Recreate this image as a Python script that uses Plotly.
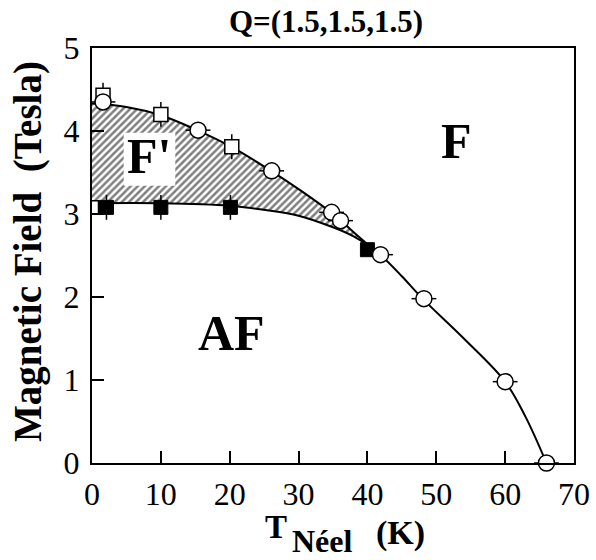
import plotly.graph_objects as go

# ---- data ----
circ_T = [1.6, 15.4, 26.1, 34.8, 36.1, 41.9, 48.2, 60.0, 66.0]
circ_H = [4.35, 4.01, 3.52, 3.02, 2.92, 2.51, 1.98, 0.98, 0.0]
circ_dT = [1.8, 1.8, 1.8, 1.8, 1.8, 1.8, 1.8, 1.8, 1.8]

open_sq_T = [1.6, 10.0, 20.3]
open_sq_H = [4.43, 4.20, 3.81]
open_sq_dH = [0.15, 0.15, 0.15]

edge_sq_T = [0.0]
edge_sq_H = [3.08]

fill_sq_T = [2.1, 10.0, 20.1, 40.0]
fill_sq_H = [3.08, 3.08, 3.08, 2.57]
fill_sq_dH = [0.15, 0.15, 0.15, 0.0]

# phase boundaries
upper_T = [0, 5, 10, 15, 20, 26, 30, 35, 38, 40.5]
upper_H = [4.33, 4.29, 4.19, 4.02, 3.82, 3.52, 3.30, 3.00, 2.78, 2.60]
lower_T = [0, 10, 20, 25, 30, 35, 38, 40.5]
lower_H = [3.13, 3.13, 3.10, 3.05, 2.98, 2.84, 2.73, 2.60]
high_T = [40.5, 42, 45, 48, 54, 60, 63, 66]
high_H = [2.60, 2.50, 2.25, 1.98, 1.50, 0.98, 0.55, 0.0]

x_ticks = [0, 10, 20, 30, 40, 50, 60, 70]
y_ticks = [0, 1, 2, 3, 4, 5]

SERIF = "Liberation Serif, serif"

W, H = 596, 560
L, R, T, B = 92, 574, 48, 463   # plot-area pixel edges

fig = go.Figure()

# lower boundary (AF / F')
fig.add_trace(go.Scatter(x=lower_T, y=lower_H, mode="lines",
                         line=dict(color="black", width=2, shape="spline"),
                         showlegend=False, hoverinfo="skip"))
# upper boundary with hatched region
fig.add_trace(go.Scatter(x=upper_T, y=upper_H, mode="lines", fill="tonexty",
                         fillcolor="white",
                         fillpattern=dict(shape="/", fgcolor="black", bgcolor="white",
                                          size=5, solidity=0.5),
                         line=dict(color="black", width=2, shape="spline"),
                         showlegend=False, hoverinfo="skip"))
# high-temperature boundary
fig.add_trace(go.Scatter(x=high_T, y=high_H, mode="lines",
                         line=dict(color="black", width=2, shape="spline"),
                         showlegend=False, hoverinfo="skip"))

# squares
fig.add_trace(go.Scatter(x=edge_sq_T, y=edge_sq_H, mode="markers",
                         marker=dict(symbol="square", size=13, color="white",
                                     line=dict(color="black", width=1.5)),
                         showlegend=False))
fig.add_trace(go.Scatter(x=open_sq_T, y=open_sq_H, mode="markers", cliponaxis=False,
                         error_y=dict(type="data", array=open_sq_dH, color="black",
                                      thickness=1.5, width=0),
                         marker=dict(symbol="square", size=14, color="white",
                                     line=dict(color="black", width=1.5)),
                         showlegend=False))
fig.add_trace(go.Scatter(x=fill_sq_T, y=fill_sq_H, mode="markers", cliponaxis=False,
                         error_y=dict(type="data", array=fill_sq_dH, color="black",
                                      thickness=1.5, width=0),
                         marker=dict(symbol="square", size=14, color="black",
                                     line=dict(color="black", width=1)),
                         showlegend=False))
# circles
fig.add_trace(go.Scatter(x=circ_T, y=circ_H, mode="markers", cliponaxis=False,
                         error_x=dict(type="data", array=circ_dT, color="black",
                                      thickness=1.5, width=0),
                         marker=dict(symbol="circle", size=16, color="white",
                                     line=dict(color="black", width=1.5)),
                         showlegend=False))

# white box behind F'
fig.add_shape(type="rect", x0=4.6, x1=12.1, y0=3.34, y1=3.98, xref="x", yref="y",
              fillcolor="white", line=dict(width=0), layer="above")

lab_font = dict(family=SERIF, size=50, color="black")
for tx, ty, tt in [(8.3, 3.70, "<b>F'</b>"), (52.9, 3.88, "<b>F</b>"), (20.3, 1.57, "<b>AF</b>")]:
    fig.add_annotation(x=tx, y=ty, text=tt, showarrow=False, font=lab_font,
                       xanchor="center", yanchor="middle")


def fx(p):
    return (p - L) / (R - L)


def fy(p):
    return (B - p) / (B - T)


# x-axis title pieces
for px_, py_, txt, fs in [(276, 527, "<b>T</b>", 33),
                          (322, 541, "<b>Néel</b>", 32),
                          (400, 533, "<b>(K)</b>", 34)]:
    fig.add_annotation(xref="paper", yref="paper", x=fx(px_), y=fy(py_),
                       text=txt, showarrow=False, xanchor="center", yanchor="middle",
                       font=dict(family=SERIF, size=fs, color="black"))
# y-axis title
fig.add_annotation(xref="paper", yref="paper", x=fx(28), y=fy(252),
                   text="<b>Magnetic Field  (Tesla)</b>", showarrow=False,
                   textangle=-90, xanchor="center", yanchor="middle",
                   font=dict(family=SERIF, size=39, color="black"))

fig.update_layout(
    width=W, height=H,
    margin=dict(l=L, r=W - R, t=T, b=H - B, autoexpand=False),
    paper_bgcolor="white", plot_bgcolor="white",
    title=dict(text="<b>Q=(1.5,1.5,1.5)</b>", x=326 / W, xanchor="center",
               y=1 - 21 / H, yanchor="middle", yref="container",
               font=dict(family=SERIF, size=31, color="black")),
    xaxis=dict(range=[0, 70], tickvals=x_ticks, ticks="inside", ticklen=12,
               tickwidth=2, tickcolor="black", showline=True, linecolor="black",
               linewidth=2, mirror=True, showgrid=False, zeroline=False,
               automargin=False, ticklabelstandoff=2,
               tickfont=dict(family=SERIF, size=32, color="black")),
    yaxis=dict(range=[0, 5], tickvals=y_ticks, ticks="inside", ticklen=12,
               tickwidth=2, tickcolor="black", showline=True, linecolor="black",
               linewidth=2, mirror=True, showgrid=False, zeroline=False,
               automargin=False, ticklabelstandoff=4,
               tickfont=dict(family=SERIF, size=32, color="black")),
)

fig.write_html("out.html", config={"displayModeBar": False},
               post_script="document.body.style.margin='0';document.body.style.overflow='hidden';")
